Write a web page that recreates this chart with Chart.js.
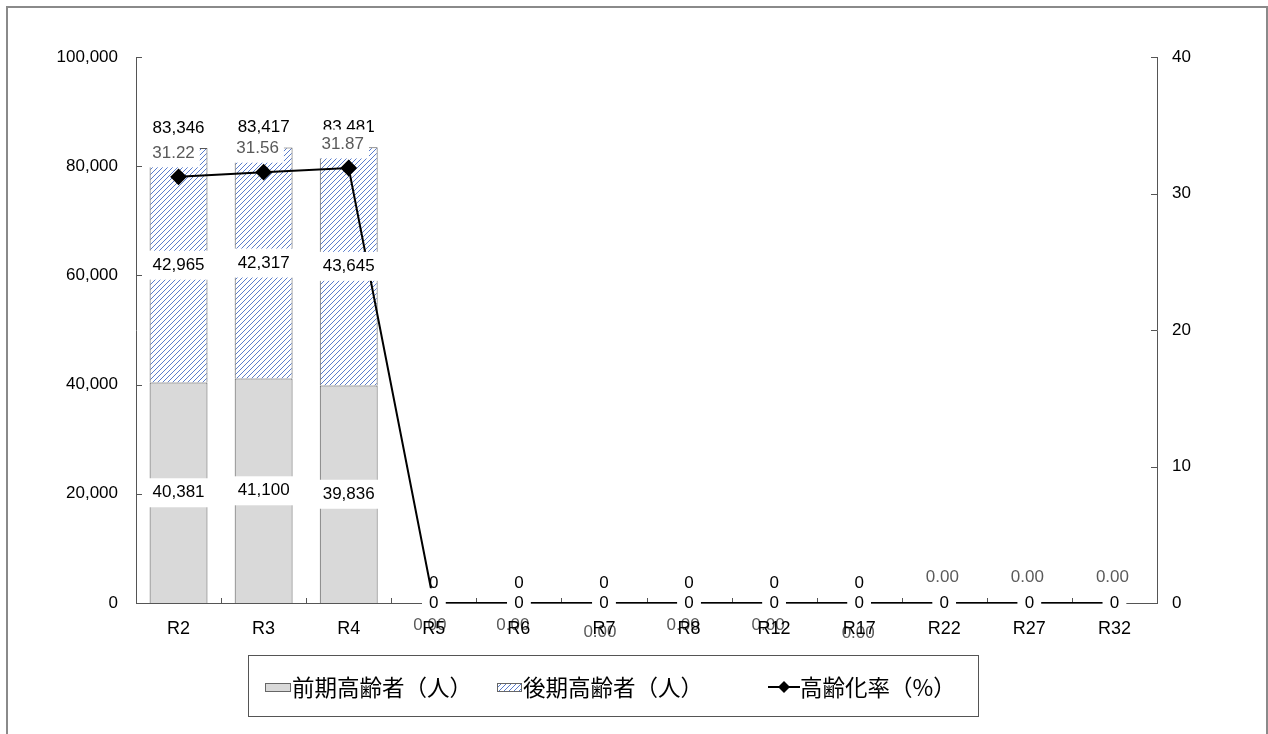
<!DOCTYPE html>
<html lang="ja">
<head>
<meta charset="utf-8">
<title>高齢者人口と高齢化率の推移</title>
<script src="https://cdn.jsdelivr.net/npm/chart.js@4.4.1/dist/chart.umd.min.js"></script>
<style>
  html, body { margin: 0; padding: 0; background: #fff; }
  canvas { display: block; }
</style>
</head>
<body>
<canvas id="chart" width="1268" height="734"></canvas>
<script>
// 年次区分
const categories = ['R2', 'R3', 'R4', 'R5', 'R6', 'R7', 'R8', 'R12', 'R17', 'R22', 'R27', 'R32'];
// 前期高齢者（人）
const earlyElderly = [40381, 41100, 39836, 0, 0, 0, 0, 0, 0, 0, 0, 0];
// 後期高齢者（人）
const lateElderly = [42965, 42317, 43645, 0, 0, 0, 0, 0, 0, 0, 0, 0];
// 高齢化率（%）
const agingRate = [31.22, 31.56, 31.87, 0, 0, 0, 0, 0, 0, 0, 0, 0];
// 目盛
const leftTicks = [0, 20000, 40000, 60000, 80000, 100000];
const rightTicks = [0, 10, 20, 30, 40];

const seriesNames = ['前期高齢者（人）', '後期高齢者（人）', '高齢化率（%）'];

const NUM_FONT = '"Liberation Sans", Arial, sans-serif';
const JP_FONT = '"Noto Sans CJK JP", "Noto Sans", sans-serif';

const canvas = document.getElementById('chart');
const ctx0 = canvas.getContext('2d');

// 斜線ハッチング
function makeHatch(ctx) {
  const n = 5;
  const c = document.createElement('canvas');
  c.width = n; c.height = n;
  const g = c.getContext('2d');
  g.fillStyle = '#ffffff';
  g.fillRect(0, 0, n, n);
  g.strokeStyle = '#5a7dcc';
  g.lineWidth = 1;
  g.beginPath();
  g.moveTo(0, n); g.lineTo(n, 0);
  g.moveTo(-1, 1); g.lineTo(1, -1);
  g.moveTo(n - 1, n + 1); g.lineTo(n + 1, n - 1);
  g.stroke();
  return ctx.createPattern(c, 'repeat');
}
const hatch = makeHatch(ctx0);

const fmt = v => Number(v).toLocaleString('en-US');

function labelBox(ctx, text, x, y, opts) {
  ctx.save();
  ctx.font = `${opts.size}px ${NUM_FONT}`;
  const w = ctx.measureText(text).width;
  if (opts.bg) {
    ctx.fillStyle = '#ffffff';
    ctx.fillRect(x - w / 2 - opts.padX, y - opts.h / 2, w + opts.padX * 2, opts.h);
  }
  ctx.fillStyle = opts.color;
  ctx.textAlign = 'center';
  ctx.textBaseline = 'middle';
  ctx.fillText(text, x, y);
  ctx.restore();
}

// 背景と外枠
const framePlugin = {
  id: 'frame',
  beforeDraw(chart) {
    const c = chart.ctx;
    c.save();
    c.fillStyle = '#ffffff';
    c.fillRect(0, 0, chart.width, chart.height);
    c.strokeStyle = '#8a8a8a';
    c.lineWidth = 2;
    c.strokeRect(7, 7, chart.width - 8, chart.height + 20);
    c.restore();
  }
};

// 内向きの目盛線
const innerTicksPlugin = {
  id: 'innerTicks',
  beforeDatasetsDraw(chart) {
    const c = chart.ctx;
    const { x, y, y2 } = chart.scales;
    c.save();
    c.strokeStyle = '#555';
    c.lineWidth = 1;
    c.beginPath();
    leftTicks.forEach(v => {
      const py = Math.round(y.getPixelForValue(v)) + 0.5;
      c.moveTo(y.right, py); c.lineTo(y.right + 6, py);
    });
    rightTicks.forEach(v => {
      const py = Math.round(y2.getPixelForValue(v)) + 0.5;
      c.moveTo(y2.left, py); c.lineTo(y2.left - 6, py);
    });
    for (let i = 1; i < categories.length; i++) {
      const px = Math.round((x.getPixelForTick(i - 1) + x.getPixelForTick(i)) / 2) + 0.5;
      c.moveTo(px, x.top); c.lineTo(px, x.top - 5);
    }
    c.stroke();
    c.restore();
  }
};

// 数値ラベル
const valueLabelsPlugin = {
  id: 'valueLabels',
  afterDatasetsDraw(chart, args, opts) {
    const c = chart.ctx;
    const lineMeta = chart.getDatasetMeta(0);
    const earlyMeta = chart.getDatasetMeta(1);
    const lateMeta = chart.getDatasetMeta(2);

    // 合計（積み上げ上端の上）
    categories.forEach((_, i) => {
      const top = lateMeta.data[i];
      const total = earlyElderly[i] + lateElderly[i];
      labelBox(c, fmt(total), top.x, top.y - 20, { size: 17, color: '#000', bg: false, padX: 0, h: 0 });
    });

    // 各区分の値（区分の中央）
    [[earlyMeta, earlyElderly], [lateMeta, lateElderly]].forEach(([meta, values]) => {
      meta.data.forEach((bar, i) => {
        labelBox(c, fmt(values[i]), bar.x, (bar.y + bar.base) / 2,
          { size: 17, color: '#000', bg: true, padX: 7, h: 29 });
      });
    });

    // 高齢化率
    lineMeta.data.forEach((pt, i) => {
      const off = opts.rateOffsets[i];
      labelBox(c, agingRate[i].toFixed(2), pt.x + off[0], pt.y + off[1],
        { size: 17, color: '#5a5a5a', bg: true, padX: 5, h: 29 });
    });
  }
};

// 凡例（枠付き）
const boxLegendPlugin = {
  id: 'boxLegend',
  afterDraw(chart) {
    const c = chart.ctx;
    c.save();
    c.strokeStyle = '#555';
    c.lineWidth = 1;
    c.strokeRect(248.5, 655.5, 730, 61);

    const cy = 687;
    c.font = `22.5px ${JP_FONT}`;
    c.fillStyle = '#000';
    c.textBaseline = 'middle';
    c.textAlign = 'left';

    c.fillStyle = '#d9d9d9';
    c.fillRect(265, cy - 4, 26, 9);
    c.strokeStyle = '#666';
    c.strokeRect(265.5, cy - 3.5, 25, 8);
    c.fillStyle = '#000';
    c.fillText(seriesNames[0], 292, cy);

    c.fillStyle = hatch;
    c.fillRect(497, cy - 4, 25, 9);
    c.strokeRect(497.5, cy - 3.5, 24, 8);
    c.fillStyle = '#000';
    c.fillText(seriesNames[1], 523, cy);

    c.strokeStyle = '#000';
    c.lineWidth = 2;
    c.beginPath();
    c.moveTo(768, cy); c.lineTo(800, cy);
    c.stroke();
    c.fillStyle = '#000';
    c.beginPath();
    c.moveTo(784, cy - 6); c.lineTo(790, cy); c.lineTo(784, cy + 6); c.lineTo(778, cy);
    c.closePath();
    c.fill();
    c.fillText(seriesNames[2], 800, cy);
    c.restore();
  }
};

new Chart(canvas, {
  type: 'bar',
  data: {
    labels: categories,
    datasets: [
      {
        type: 'line',
        label: seriesNames[2],
        data: agingRate,
        yAxisID: 'y2',
        borderColor: '#000',
        backgroundColor: '#000',
        borderWidth: 2,
        pointStyle: 'rectRot',
        pointRadius: 7,
        pointBackgroundColor: '#000',
        pointBorderColor: '#000',
        tension: 0,
        order: 0
      },
      {
        label: seriesNames[0],
        data: earlyElderly,
        backgroundColor: '#d9d9d9',
        borderColor: '#555',
        borderWidth: 1,
        stack: 'pop',
        order: 1
      },
      {
        label: seriesNames[1],
        data: lateElderly,
        backgroundColor: hatch,
        borderColor: '#555',
        borderWidth: 1,
        stack: 'pop',
        order: 2
      }
    ]
  },
  options: {
    responsive: false,
    animation: false,
    devicePixelRatio: 1,
    layout: { padding: { top: 57, left: 0, right: 0, bottom: 0 } },
    datasets: { bar: { barPercentage: 0.68, categoryPercentage: 1.0 } },
    plugins: {
      legend: { display: false },
      tooltip: { enabled: false },
      valueLabels: {
        rateOffsets: [[-5, -24], [-6, -24], [-6, -24], [-4, 22], [-6, 22], [-4, 29],
                      [-6, 22], [-6, 22], [-1, 30], [-2, -26], [-2, -26], [-2, -26]]
      }
    },
    scales: {
      x: {
        stacked: true,
        grid: { display: false, drawTicks: false },
        border: { color: '#555', width: 1 },
        ticks: { color: '#000', font: { family: NUM_FONT, size: 18 }, padding: 15, z: 1, maxRotation: 0, autoSkip: false },
        afterFit(s) { s.height = 131; }
      },
      y: {
        position: 'left',
        stacked: true,
        min: 0,
        max: 100000,
        afterBuildTicks(s) { s.ticks = leftTicks.map(v => ({ value: v })); },
        ticks: { color: '#000', font: { family: NUM_FONT, size: 17 }, padding: 18, callback: v => fmt(v) },
        grid: { display: false, drawTicks: false },
        border: { color: '#555', width: 1 },
        afterFit(s) { s.width = 136; }
      },
      y2: {
        position: 'right',
        min: 0,
        max: 40,
        afterBuildTicks(s) { s.ticks = rightTicks.map(v => ({ value: v })); },
        ticks: { color: '#000', font: { family: NUM_FONT, size: 17 }, padding: 15 },
        grid: { display: false, drawTicks: false },
        border: { color: '#555', width: 1 },
        afterFit(s) { s.width = 111; }
      }
    }
  },
  plugins: [framePlugin, innerTicksPlugin, valueLabelsPlugin, boxLegendPlugin]
});
</script>
</body>
</html>
